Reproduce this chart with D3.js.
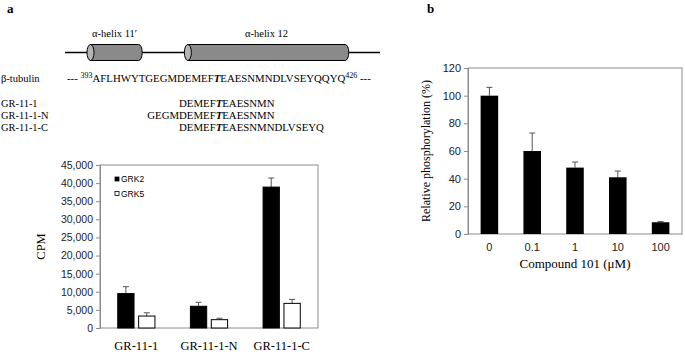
<!DOCTYPE html>
<html>
<head>
<meta charset="utf-8">
<script src="https://cdn.jsdelivr.net/npm/d3@7"></script>
<style>
  body { margin: 0; background: #fff; }
  svg { display: block; }
</style>
</head>
<body>
<div id="chart"></div>
<script>
// ---- data ----
const tubulinSeq = "AFLHWYTGEGMDEMEFTEAESNMNDLVSEYQQYQ";
const tubulinStart = "393";
const tubulinEnd = "426";
const peptideNames = ["GR-11-1", "GR-11-1-N", "GR-11-1-C"];
const peptideSeqs = ["DEMEFTEAESNMN", "GEGMDEMEFTEAESNMN", "DEMEFTEAESNMNDLVSEYQ"];
const helixLabels = ["α-helix  11′", "α-helix  12"];
const helixRanges = [[0, 5], [12, 33]]; // residue index ranges of each helix (approx)

const kinases = ["GRK2", "GRK5"];
const grk2 = [9500, 6000, 38900];
const grk2Err = [1900, 1100, 2500];
const grk5 = [3300, 2300, 6800];
const grk5Err = [900, 400, 1100];
const cpmTicks = [0, 5000, 10000, 15000, 20000, 25000, 30000, 35000, 40000, 45000];

const doses = ["0", "0.1", "1", "10", "100"];
const phos = [100, 60, 48, 41, 8.5];
const phosErr = [6, 13, 4, 4.5, 0.5];
const phosTicks = [0, 20, 40, 60, 80, 100, 120];

const W = 685, H = 352;
const serif = "'Liberation Serif', 'Times New Roman', serif";
const sans = "'Liberation Sans', Arial, sans-serif";

const svg = d3.select("#chart").append("svg")
  .attr("width", W).attr("height", H);

// panel letters
svg.append("text").attr("x", 7).attr("y", 13)
  .style("font-family", serif).style("font-weight", "bold").style("font-size", "13px").text("a");
svg.append("text").attr("x", 427).attr("y", 13)
  .style("font-family", serif).style("font-weight", "bold").style("font-size", "13px").text("b");

// ---- sequence block ----
const seqWidth = 253; // width the residue string should take
const seq = svg.append("text")
  .attr("x", 67).attr("y", 82)
  .style("font-family", serif).style("font-size", "11.5px");
seq.append("tspan").text("---\u00a0");
seq.append("tspan").attr("dy", -4).style("font-size", "8px").text(tubulinStart);
const tPos = tubulinSeq.indexOf("FTEA") + 1;
const main1 = seq.append("tspan").attr("dy", 4).text(tubulinSeq.slice(0, tPos));
const mainT = seq.append("tspan").style("font-weight", "bold").style("font-style", "italic").text("T");
const main2 = seq.append("tspan").text(tubulinSeq.slice(tPos + 1));
seq.append("tspan").attr("dy", -4).style("font-size", "8px").text(tubulinEnd);
seq.append("tspan").attr("dy", 4).text("\u00a0---");

const seqOffset = ("--- " + tubulinStart).length;
// fit the residue font so the string spans seqWidth
const measured = seq.node().getSubStringLength(seqOffset, tubulinSeq.length);
const seqFont = 11.5 * seqWidth / measured;
[main1, mainT, main2].forEach(t => t.style("font-size", seqFont + "px"));
seq.selectAll("tspan").filter((d, i) => i === 0 || i === 6).style("font-size", seqFont + "px");

svg.append("text").attr("x", 1).attr("y", 82)
  .style("font-family", serif).style("font-size", "10.5px").text("β-tubulin");

const charX = i => seq.node().getStartPositionOfChar(seqOffset + i).x;
const charEnd = i => seq.node().getEndPositionOfChar(seqOffset + i).x;

peptideNames.forEach((name, r) => {
  const y = 107 + r * 12;
  svg.append("text").attr("x", 1).attr("y", y)
    .style("font-family", serif).style("font-size", "10.4px").text(name);
  const s = peptideSeqs[r];
  const start = tubulinSeq.indexOf(s);
  const x0 = charX(start), x1 = charEnd(start + s.length - 1);
  const t = svg.append("text").attr("x", x0 + 2).attr("y", y)
    .attr("textLength", x1 - x0).attr("lengthAdjust", "spacingAndGlyphs")
    .style("font-family", serif).style("font-size", "10.4px");
  const k = s.indexOf("FTEA") + 1;
  t.append("tspan").text(s.slice(0, k));
  t.append("tspan").style("font-weight", "bold").style("font-style", "italic").text("T");
  t.append("tspan").text(s.slice(k + 1));
});

// ---- helix cartoon ----
const lineY = 52.5, cylH = 16;
svg.append("line").attr("x1", 65).attr("x2", 380).attr("y1", lineY).attr("y2", lineY)
  .attr("stroke", "#000").attr("stroke-width", 1.3);
helixRanges.forEach((rg, i) => {
  const x0 = charX(rg[0]) + (i === 0 ? -2 : 3), x1 = charEnd(rg[1]);
  const rx = 3.5, ry = cylH / 2;
  const g = svg.append("g");
  g.append("path")
    .attr("d", `M${x0},${lineY - ry} L${x1},${lineY - ry} A${rx},${ry} 0 0 1 ${x1},${lineY + ry} L${x0},${lineY + ry} Z`)
    .attr("fill", "#8a8a8a").attr("stroke", "#000").attr("stroke-width", 1);
  g.append("ellipse").attr("cx", x0).attr("cy", lineY).attr("rx", rx).attr("ry", ry)
    .attr("fill", "#b5b5b5").attr("stroke", "#000").attr("stroke-width", 1);
  svg.append("text").attr("x", (x0 + x1) / 2).attr("y", 37).attr("text-anchor", "middle")
    .style("font-family", serif).style("font-size", "10.5px").text(helixLabels[i]);
});

// ---- panel a bar chart ----
const a = { left: 100, right: 318, top: 165, bottom: 328 };
const xa = d3.scaleBand().domain(peptideNames).range([a.left, a.right]);
const bw = xa.bandwidth();
const xa1 = d3.scaleBand().domain(kinases).range([bw / 2 - 18.6, bw / 2 + 18.6]).paddingInner(0.22);
const ya = d3.scaleLinear().domain([0, 45000]).range([a.bottom, a.top]);

svg.append("rect").attr("x", a.left).attr("y", a.top)
  .attr("width", a.right - a.left).attr("height", a.bottom - a.top)
  .attr("fill", "none").attr("stroke", "#8c8c8c");

const axA = svg.append("g").attr("transform", `translate(${a.left},0)`)
  .call(d3.axisLeft(ya).tickValues(cpmTicks).tickFormat(d3.format(",")).tickSize(4).tickSizeOuter(0));
axA.select(".domain").attr("stroke", "#8c8c8c");
axA.selectAll(".tick line").attr("stroke", "#8c8c8c");
axA.selectAll("text").style("font-family", sans).style("font-size", "10.5px").attr("fill", "#222");

svg.append("text").attr("transform", `translate(45,${(a.top + a.bottom) / 2}) rotate(-90)`)
  .attr("text-anchor", "middle").style("font-family", serif).style("font-size", "12.5px").text("CPM");

const seriesA = kinases.map((k, j) => ({
  key: k,
  vals: peptideNames.map((p, i) => ({ p, v: j === 0 ? grk2[i] : grk5[i], e: j === 0 ? grk2Err[i] : grk5Err[i] }))
}));

seriesA.forEach((s, j) => {
  const g = svg.append("g");
  const cx = d => xa(d.p) + xa1(s.key) + xa1.bandwidth() / 2;
  g.selectAll("line.err").data(s.vals).enter().append("line")
    .attr("x1", cx).attr("x2", cx)
    .attr("y1", d => ya(d.v)).attr("y2", d => ya(d.v + d.e))
    .attr("stroke", "#555").attr("stroke-width", 1);
  g.selectAll("line.cap").data(s.vals).enter().append("line")
    .attr("x1", d => cx(d) - 3).attr("x2", d => cx(d) + 3)
    .attr("y1", d => ya(d.v + d.e)).attr("y2", d => ya(d.v + d.e))
    .attr("stroke", "#555").attr("stroke-width", 1);
  g.selectAll("rect").data(s.vals).enter().append("rect")
    .attr("x", d => xa(d.p) + xa1(s.key))
    .attr("y", d => ya(d.v))
    .attr("width", xa1.bandwidth())
    .attr("height", d => a.bottom - ya(d.v))
    .attr("fill", j === 0 ? "#000" : "#fff")
    .attr("stroke", "#000").attr("stroke-width", 1);
});

svg.selectAll("text.xa").data(peptideNames).enter().append("text")
  .attr("x", d => xa(d) + bw / 2).attr("y", 350).attr("text-anchor", "middle")
  .style("font-family", serif).style("font-size", "12.5px").text(d => d);

// legend
kinases.forEach((k, i) => {
  const y = 179 + i * 14.5;
  svg.append("rect").attr("x", 115).attr("y", y - 2).attr("width", 4).attr("height", 4)
    .attr("fill", i === 0 ? "#000" : "#fff").attr("stroke", "#000").attr("stroke-width", 0.8);
  svg.append("text").attr("x", 121).attr("y", y + 3.3)
    .style("font-family", sans).style("font-size", "8.5px").text(k);
});

// ---- panel b bar chart ----
const b = { left: 468, right: 682, top: 68, bottom: 234 };
const xb = d3.scaleBand().domain(doses).range([b.left, b.right]).paddingInner(0.59).paddingOuter(0.295);
const yb = d3.scaleLinear().domain([0, 120]).range([b.bottom, b.top]);

svg.append("rect").attr("x", b.left).attr("y", b.top)
  .attr("width", b.right - b.left).attr("height", b.bottom - b.top)
  .attr("fill", "none").attr("stroke", "#8c8c8c");

const axB = svg.append("g").attr("transform", `translate(${b.left},0)`)
  .call(d3.axisLeft(yb).tickValues(phosTicks).tickSize(4).tickSizeOuter(0));
axB.select(".domain").attr("stroke", "#8c8c8c");
axB.selectAll(".tick line").attr("stroke", "#8c8c8c");
axB.selectAll("text").style("font-family", sans).style("font-size", "11px").attr("fill", "#222");

const axBx = svg.append("g").attr("transform", `translate(0,${b.bottom})`)
  .call(d3.axisBottom(xb).tickSize(0).tickPadding(9));
axBx.select(".domain").remove();
axBx.selectAll("text").style("font-family", sans).style("font-size", "11px").attr("fill", "#222");

const dataB = doses.map((d, i) => ({ d, v: phos[i], e: phosErr[i] }));
const gb = svg.append("g");
const cxb = d => xb(d.d) + xb.bandwidth() / 2;
gb.selectAll("line.err").data(dataB).enter().append("line")
  .attr("x1", cxb).attr("x2", cxb)
  .attr("y1", d => yb(d.v)).attr("y2", d => yb(d.v + d.e))
  .attr("stroke", "#555");
gb.selectAll("line.cap").data(dataB).enter().append("line")
  .attr("x1", d => cxb(d) - 3).attr("x2", d => cxb(d) + 3)
  .attr("y1", d => yb(d.v + d.e)).attr("y2", d => yb(d.v + d.e))
  .attr("stroke", "#555");
gb.selectAll("rect").data(dataB).enter().append("rect")
  .attr("x", d => xb(d.d)).attr("y", d => yb(d.v))
  .attr("width", xb.bandwidth()).attr("height", d => b.bottom - yb(d.v))
  .attr("fill", "#000");

svg.append("text").attr("x", (b.left + b.right) / 2).attr("y", 268).attr("text-anchor", "middle")
  .style("font-family", serif).style("font-size", "13px").text("Compound 101 (μM)");
svg.append("text").attr("transform", `translate(430,${(b.top + b.bottom) / 2}) rotate(-90)`)
  .attr("text-anchor", "middle").style("font-family", serif).style("font-size", "12px")
  .text("Relative  phosphorylation (%)");
</script>
</body>
</html>
